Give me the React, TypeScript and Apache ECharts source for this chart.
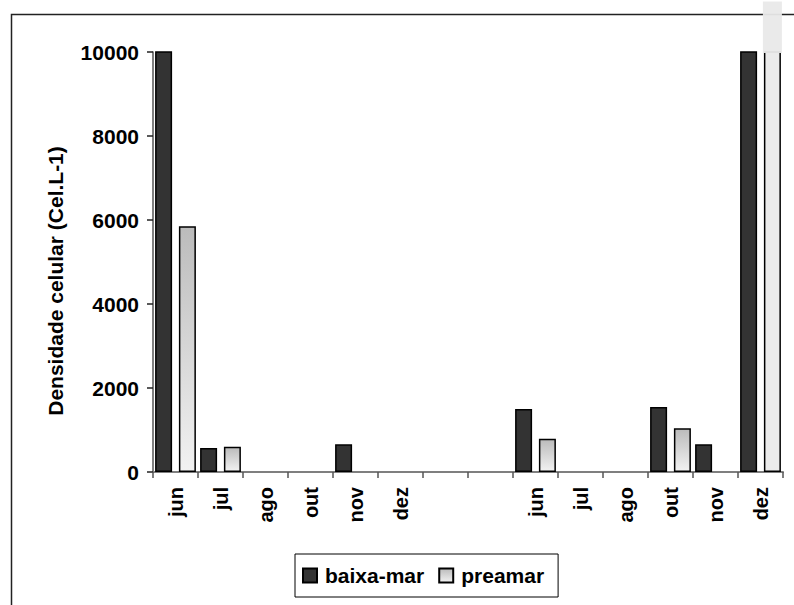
import React, { useEffect, useRef } from "react";
import * as echarts from "echarts";

const categories = ["jun", "jul", "ago", "out", "nov", "dez", "", "", "jun", "jul", "ago", "out", "nov", "dez"];
const baixaMar = [10400, 570, null, null, 660, null, null, null, 1500, null, null, 1550, 660, 10400];
const preamar = [5850, 600, null, null, null, null, null, null, 790, null, null, 1040, null, 11200];
const yTicks = [0, 2000, 4000, 6000, 8000, 10000];
const yMax = 10000;

const FONT = "'Liberation Sans', Arial, sans-serif";

export default function App() {
  const ref = useRef<HTMLDivElement>(null);
  useEffect(() => {
    if (!ref.current) return;
    const chart = echarts.init(ref.current, undefined, { renderer: "svg" });
    const BAR_W = 17;
    const overflow = preamar
      .map((v, i) => (v !== null && v > yMax ? [i, v] : null))
      .filter((d) => d !== null);
    const lightGrad = new echarts.graphic.LinearGradient(0, 0, 0, 1, [
      { offset: 0, color: "#bbbbbb" },
      { offset: 1, color: "#f2f2f2" },
    ]);
    chart.setOption({
      animation: false,
      backgroundColor: "#ffffff",
      grid: { left: 153, right: 11, top: 52, bottom: 133, containLabel: false },
      xAxis: {
        type: "category",
        data: categories,
        boundaryGap: true,
        axisLine: { show: true, lineStyle: { color: "#7f7f7f", width: 2 } },
        axisTick: { show: true, length: 6, alignWithLabel: false, lineStyle: { color: "#555", width: 1.5 } },
        axisLabel: {
          interval: 0,
          rotate: 90,
          margin: 15,
          fontSize: 20,
          fontWeight: "bold",
          fontFamily: FONT,
          color: "#000",
        },
        splitLine: { show: false },
      },
      yAxis: {
        type: "value",
        min: 0,
        max: yMax,
        interval: 2000,
        axisLine: { show: true, lineStyle: { color: "#555", width: 1.5 } },
        axisTick: { show: true, length: 6, inside: false, lineStyle: { color: "#222", width: 1.5 } },
        axisLabel: {
          margin: 14,
          fontSize: 21,
          fontWeight: "bold",
          fontFamily: FONT,
          color: "#000",
          formatter: (v: number) => (yTicks.includes(v) ? String(v) : ""),
        },
        splitLine: { show: false },
      },
      legend: {
        left: 295,
        top: 554,
        orient: "horizontal",
        data: ["baixa-mar", "preamar"],
        icon: "rect",
        itemWidth: 14,
        itemHeight: 14,
        itemGap: 14,
        padding: [11, 14, 11, 7],
        borderColor: "#000",
        borderWidth: 1,
        backgroundColor: "#fff",
        textStyle: {
          fontSize: 21,
          fontWeight: "bold",
          fontFamily: FONT,
          color: "#000",
          padding: [0, 0, 0, 3],
        },
      },
      graphic: [
        {
          type: "rect",
          left: 9,
          top: 12,
          z: -10,
          shape: { width: 800, height: 700 },
          style: { fill: "none", stroke: "#222", lineWidth: 1.5 },
        },
        {
          type: "text",
          x: 55,
          y: 281,
          rotation: Math.PI / 2,
          style: {
            text: "Densidade celular (Cel.L-1)",
            fontSize: 21,
            fontWeight: "bold",
            fontFamily: FONT,
            fill: "#000",
            align: "center",
            verticalAlign: "middle",
          },
        },
      ],
      series: [
        {
          name: "baixa-mar",
          type: "bar",
          data: baixaMar,
          barWidth: BAR_W,
          barGap: "40%",
          itemStyle: { color: "#333333", borderColor: "#000", borderWidth: 1.5 },
        },
        {
          name: "preamar",
          type: "bar",
          data: preamar.map((v) =>
            v !== null && v > yMax ? { value: v, itemStyle: { color: "#ebebeb" } } : v
          ),
          barWidth: BAR_W,
          barGap: "40%",
          itemStyle: { color: lightGrad, borderColor: "#000", borderWidth: 1.5 },
        },
        {
          name: "overflow",
          type: "custom",
          clip: false,
          silent: true,
          z: 3,
          data: overflow,
          renderItem: (params: any, api: any) => {
            const top = api.coord([api.value(0), api.value(1)]);
            const base = api.coord([api.value(0), yMax]);
            const offset = (BAR_W * 2 + BAR_W * 0.4) / 2;
            return {
              type: "rect",
              shape: {
                x: top[0] - offset + BAR_W * 1.4 - 1,
                y: top[1],
                width: BAR_W + 2,
                height: base[1] - top[1] + 1,
              },
              style: { fill: "#e9e9e9", opacity: 0.95 },
            };
          },
        },
      ],
    });
    return () => chart.dispose();
  }, []);
  return <div ref={ref} style={{ width: 794, height: 605, position: "absolute", left: 0, top: 0 }} />;
}
